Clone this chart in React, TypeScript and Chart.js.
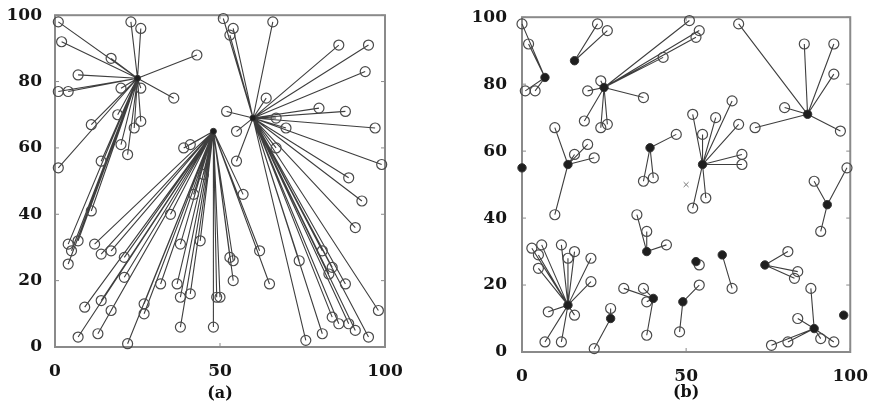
import React, { useEffect, useRef } from "react";
import { Chart, registerables } from "chart.js";
Chart.register(...registerables);

// ---------- tick labels ----------
const xTickValues = [0, 50, 100];
const yTickValues = [0, 20, 40, 60, 80, 100];
const captionA = "(a)";
const captionB = "(b)";

// ---------- panel (a) ----------
const headAX = [25, 48, 60];
const headAY = [81, 65, 69];
const nodeAX = [
  1, 2, 17, 7, 1, 4, 23, 26, 43, 36, 20, 26, 11, 19, 26, 24, 20, 22, 1, 14, 11, 4, 7, 5, 4,
  39, 41, 12, 14, 17, 21, 21, 9, 14, 17, 7, 13, 22, 27, 27, 32, 35, 38, 37, 38, 41, 38, 44, 48, 49, 53, 54, 54, 50, 57, 62, 65, 45, 42,
  51, 54, 53, 66, 64, 52, 55, 80, 88, 86, 95, 94, 97, 99, 89, 67, 70, 67, 93, 91, 74, 76, 81, 81, 84, 83, 88, 84, 86, 89, 91, 95, 98, 55,
];
const nodeAY = [
  98, 92, 87, 82, 77, 77, 98, 96, 88, 75, 78, 78, 67, 70, 68, 66, 61, 58, 54, 56, 41, 31, 32, 29, 25,
  60, 61, 31, 28, 29, 27, 21, 12, 14, 11, 3, 4, 1, 13, 10, 19, 40, 31, 19, 15, 16, 6, 32, 6, 15, 27, 26, 20, 15, 46, 29, 19, 52, 46,
  99, 96, 94, 98, 75, 71, 65, 72, 71, 91, 91, 83, 66, 55, 51, 69, 66, 60, 44, 36, 26, 2, 4, 29, 24, 22, 19, 9, 7, 7, 5, 3, 11, 56,
];
const nodeAHead = [
  0, 0, 0, 0, 0, 0, 0, 0, 0, 0, 0, 0, 0, 0, 0, 0, 0, 0, 0, 0, 0, 0, 0, 0, 0,
  1, 1, 1, 1, 1, 1, 1, 1, 1, 1, 1, 1, 1, 1, 1, 1, 1, 1, 1, 1, 1, 1, 1, 1, 1, 1, 1, 1, 1, 1, 1, 1, 1, 1,
  2, 2, 2, 2, 2, 2, 2, 2, 2, 2, 2, 2, 2, 2, 2, 2, 2, 2, 2, 2, 2, 2, 2, 2, 2, 2, 2, 2, 2, 2, 2, 2, 2, 2,
];

// ---------- panel (b) ----------
const headBX = [7, 16, 25, 0, 14, 39, 55, 87, 93, 14, 27, 38, 40, 53, 61, 49, 74, 89, 98];
const headBY = [82, 87, 79, 55, 56, 61, 56, 71, 44, 14, 10, 30, 16, 27, 29, 15, 26, 7, 11];
const nodeBX = [
  0, 2, 1, 4,
  23, 26,
  24, 20, 19, 37, 24, 26, 43, 51, 54, 53,
  10, 16, 20, 22, 10,
  37, 40, 47,
  52, 55, 59, 64, 66, 67, 67, 56, 52,
  66, 86, 95, 95, 80, 71, 97,
  89, 99, 91,
  3, 6, 5, 5, 12, 14, 16, 21, 21, 8, 16, 7, 12,
  27, 22,
  35, 38, 44,
  31, 37, 38, 38,
  54,
  64,
  54, 48,
  81, 84, 83,
  88, 84, 81, 76, 91, 95,
];
const nodeBY = [
  98, 92, 78, 78,
  98, 96,
  81, 78, 69, 76, 67, 68, 88, 99, 96, 94,
  67, 59, 62, 58, 41,
  51, 52, 65,
  71, 65, 70, 75, 68, 59, 56, 46, 43,
  98, 92, 92, 83, 73, 67, 66,
  51, 55, 36,
  31, 32, 29, 25, 32, 28, 30, 28, 21, 12, 11, 3, 3,
  13, 1,
  41, 36, 32,
  19, 19, 15, 5,
  26,
  19,
  20, 6,
  30, 24, 22,
  19, 10, 3, 2, 4, 3,
];
const nodeBHead = [
  0, 0, 0, 0,
  1, 1,
  2, 2, 2, 2, 2, 2, 2, 2, 2, 2,
  4, 4, 4, 4, 4,
  5, 5, 5,
  6, 6, 6, 6, 6, 6, 6, 6, 6,
  7, 7, 7, 7, 7, 7, 7,
  8, 8, 8,
  9, 9, 9, 9, 9, 9, 9, 9, 9, 9, 9, 9, 9,
  10, 10,
  11, 11, 11,
  12, 12, 12, 12,
  13,
  14,
  15, 15,
  16, 16, 16,
  17, 17, 17, 17, 17, 17,
];
const baseBX = [50];
const baseBY = [50];

// ---------- helpers ----------
const FONT = "'DejaVu Serif', 'Liberation Serif', serif";

function links(nx: number[], ny: number[], nh: number[], hx: number[], hy: number[]) {
  const pts: any[] = [];
  for (let i = 0; i < nx.length; i++) {
    const h = nh[i];
    pts.push({ x: nx[i], y: ny[i] }, { x: hx[h], y: hy[h] }, { x: hx[h], y: null });
  }
  return pts;
}
function pts(xs: number[], ys: number[]) {
  return xs.map((x, i) => ({ x, y: ys[i] }));
}

const framePlugin = {
  id: "frame",
  beforeDatasetsDraw(chart: any) {
    const { ctx, chartArea, scales } = chart;
    const { left, right, top, bottom } = chartArea;
    ctx.save();
    ctx.strokeStyle = "#8a8a8a";
    ctx.lineWidth = 2;
    ctx.strokeRect(left, top, right - left, bottom - top);
    ctx.lineWidth = 1;
    const tl = 4;
    ctx.beginPath();
    xTickValues.forEach((v) => {
      const px = scales.x.getPixelForValue(v);
      ctx.moveTo(px, bottom);
      ctx.lineTo(px, bottom - tl);
      ctx.moveTo(px, top);
      ctx.lineTo(px, top + tl);
    });
    yTickValues.forEach((v) => {
      const py = scales.y.getPixelForValue(v);
      ctx.moveTo(left, py);
      ctx.lineTo(left + tl, py);
      ctx.moveTo(right, py);
      ctx.lineTo(right - tl, py);
    });
    ctx.stroke();
    ctx.restore();
  },
};

function buildConfig(p: any) {
  const datasets: any[] = [
    {
      label: "links",
      data: links(p.nx, p.ny, p.nh, p.hx, p.hy),
      showLine: true,
      spanGaps: false,
      borderColor: "#3e3e3e",
      borderWidth: 1.1,
      pointRadius: 0,
      clip: false,
      order: 4,
    },
    {
      label: "nodes",
      data: pts(p.nx, p.ny),
      pointStyle: "circle",
      pointRadius: 5,
      pointBorderColor: "#4a4a4a",
      pointBorderWidth: 1.2,
      pointBackgroundColor: "rgba(255,255,255,0)",
      showLine: false,
      clip: false,
      order: 3,
    },
    {
      label: "heads",
      data: pts(p.hx, p.hy),
      pointStyle: "circle",
      pointRadius: p.headRadius,
      pointBorderColor: "#333",
      pointBorderWidth: 1,
      pointBackgroundColor: "#1e1e1e",
      showLine: false,
      clip: false,
      order: 2,
    },
  ];
  if (p.bx) {
    datasets.push({
      label: "base",
      data: pts(p.bx, p.by),
      pointStyle: "crossRot",
      pointRadius: 3.5,
      pointBorderColor: "#777",
      pointBorderWidth: 1,
      showLine: false,
      order: 1,
    });
  }
  const tickFont = { family: FONT, size: 17, weight: "bold" as const };
  return {
    type: "scatter" as const,
    data: { datasets },
    options: {
      animation: false,
      responsive: false,
      devicePixelRatio: 1,
      events: [],
      layout: {
        autoPadding: false,
        padding: { left: 0, right: p.padRight, top: p.padTop, bottom: p.padBottom },
      },
      plugins: {
        legend: { display: false },
        tooltip: { enabled: false },
        title: {
          display: true,
          text: p.caption,
          position: "bottom",
          fullSize: false,
          color: "#111",
          font: { family: FONT, size: 16, weight: "bold" },
          padding: 0,
        },
      },
      scales: {
        x: {
          type: "linear",
          min: 0,
          max: 100,
          grid: { display: false },
          border: { display: false },
          ticks: { color: "#151515", font: tickFont, padding: 6, maxRotation: 0 },
          afterBuildTicks: (s: any) => {
            s.ticks = xTickValues.map((v) => ({ value: v }));
          },
          afterFit: (s: any) => {
            s.height = p.xAxisH;
          },
        },
        y: {
          type: "linear",
          min: 0,
          max: 100,
          grid: { display: false },
          border: { display: false },
          ticks: { color: "#151515", font: tickFont, padding: p.yPad },
          afterBuildTicks: (s: any) => {
            s.ticks = yTickValues.map((v) => ({ value: v }));
          },
          afterFit: (s: any) => {
            s.width = p.yAxisW;
          },
        },
      },
    },
    plugins: [framePlugin],
  };
}

function Panel(props: { left: number; width: number; params: any }) {
  const ref = useRef<HTMLCanvasElement>(null);
  useEffect(() => {
    const chart = new Chart(ref.current as HTMLCanvasElement, buildConfig(props.params) as any);
    return () => chart.destroy();
  }, []);
  return (
    <div style={{ position: "absolute", left: props.left, top: 0, width: props.width, height: 407 }}>
      <canvas ref={ref} width={props.width} height={407} style={{ width: props.width, height: 407, display: "block" }} />
    </div>
  );
}

export default function App() {
  const pA = {
    nx: nodeAX, ny: nodeAY, nh: nodeAHead, hx: headAX, hy: headAY,
    headRadius: 3, caption: captionA,
    padRight: 25, padTop: 14, padBottom: 4, xAxisH: 36.8, yAxisW: 55, yPad: 5,
  };
  const pB = {
    nx: nodeBX, ny: nodeBY, nh: nodeBHead, hx: headBX, hy: headBY, bx: baseBX, by: baseBY,
    headRadius: 4.2, caption: captionB,
    padRight: 16, padTop: 17, padBottom: 5, xAxisH: 30.8, yAxisW: 52, yPad: 7,
  };
  return (
    <div style={{ position: "absolute", left: 0, top: 0, width: 874, height: 407, background: "#fff", overflow: "hidden" }}>
      <Panel left={0} width={410} params={pA} />
      <Panel left={470} width={404} params={pB} />
    </div>
  );
}
